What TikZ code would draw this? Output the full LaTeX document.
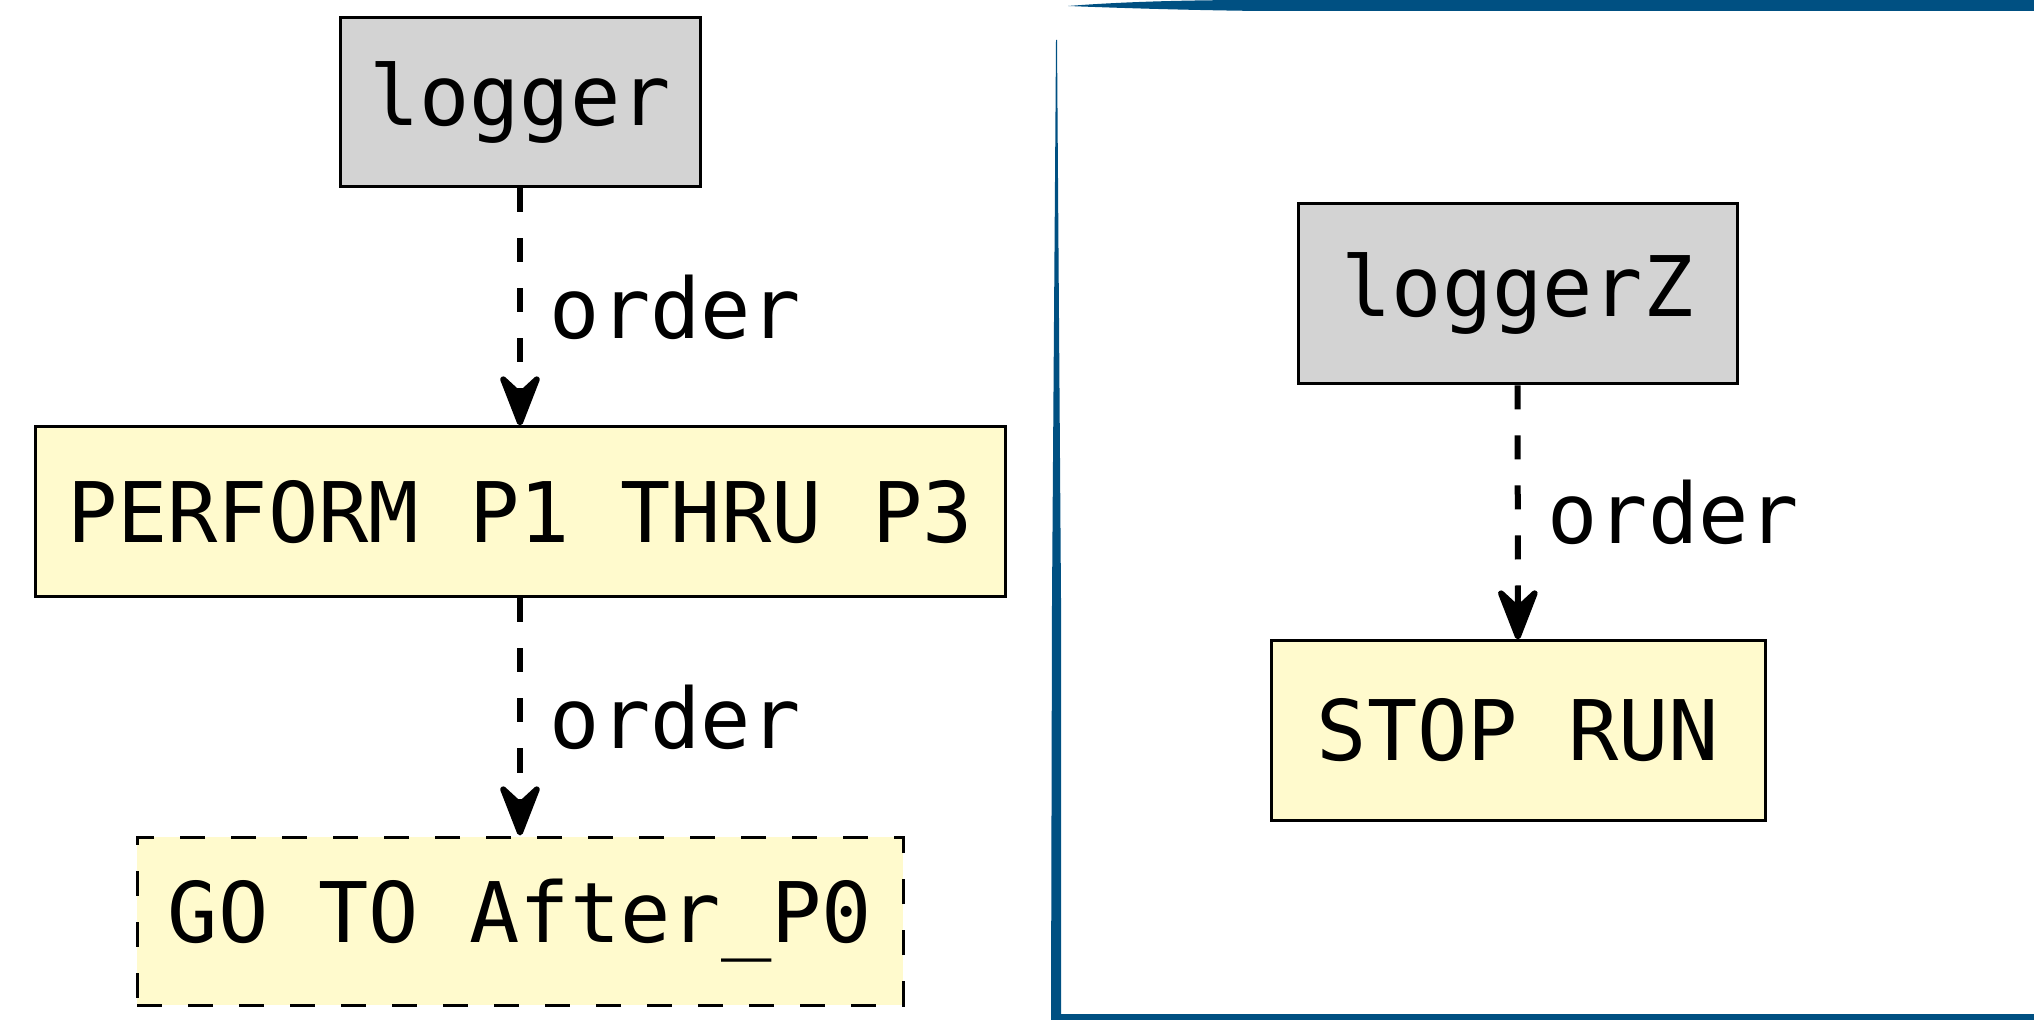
\documentclass[tikz,border=0pt]{standalone}
\usepackage{fontspec}
\setmonofont{DejaVu Sans Mono}
\usetikzlibrary{arrows.meta}
\definecolor{framblue}{RGB}{0,80,130}
\definecolor{stmtyellow}{RGB}{255,250,205}
\definecolor{srcgray}{RGB}{211,211,211}

\begin{document}
\begin{tikzpicture}[x=0.5pt,y=0.5pt,
  every node/.style={font=\ttfamily\fontsize{41.8}{50}\selectfont},
  srcbox/.style={draw=black, line width=1.5pt, fill=srcgray, inner sep=0pt},
  stmtbox/.style={draw=black, line width=1.5pt, fill=stmtyellow, inner sep=0pt},
  flow/.style={line width=3pt, dash pattern=on 12pt off 13pt,
    -{Stealth[length=31pt,width=24pt,inset=11pt,round]}},
  lbl/.style={midway, right, xshift=10pt}]
\useasboundingbox (0,0) rectangle (2034,-1020);
% frame of the second paragraph
\fill[framblue] (1068,-6) .. controls (1120,-2) and (1180,0) .. (1260,0) -- (2034,0)
  -- (2034,-11) -- (1260,-11) .. controls (1180,-10) and (1120,-8) .. cycle;
\fill[framblue] (1056,-40) -- (1052,-600) -- (1051,-1020) -- (1061,-1020) -- (1061,-600) -- (1057,-40) -- cycle;
\fill[framblue] (1051,-1014) rectangle (2034,-1020);
% first paragraph
\node[srcbox, minimum width=180pt, minimum height=84.5pt] (logger) at (520,-102.5) {logger};
\node[stmtbox, minimum width=485pt, minimum height=85pt] (perform) at (520,-512) {PERFORM P1 THRU P3};
\node[stmtbox, dash pattern=on 12.5pt off 13pt, minimum width=383pt, minimum height=84pt] (goto) at (520,-921) {GO TO After\_P0};
\draw[flow] (logger) -- (perform) node[lbl] {order};
\draw[flow] (perform) -- (goto) node[lbl] {order};
% second paragraph
\node[srcbox, minimum width=219.5pt, minimum height=90pt] (loggerZ) at (1517.5,-294) {loggerZ};
\node[stmtbox, minimum width=247pt, minimum height=89.5pt] (stoprun) at (1518,-730.5) {STOP RUN};
\draw[flow] (loggerZ) -- (stoprun) node[lbl] {order};
\end{tikzpicture}
\end{document}
